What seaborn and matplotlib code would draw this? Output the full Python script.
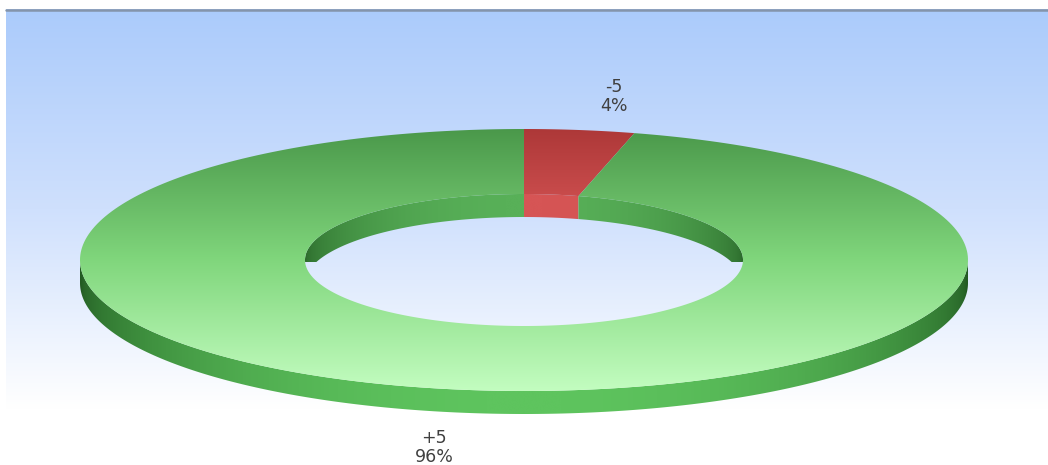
import numpy as np
import matplotlib
matplotlib.use("Agg")
import matplotlib.pyplot as plt
from matplotlib.patches import Polygon
import seaborn as sns

# ---- data ----
labels = ["-5", "+5"]
values = [4, 96]

sns.set_style("white")
plt.rcParams['font.family'] = ['DejaVu Sans']

W, H = 1048, 465
fig = plt.figure(figsize=(W / 100, H / 100), dpi=100)
ax = fig.add_axes([0, 0, 1, 1])

# ---- background ----
bg_cmap = sns.blend_palette(['#abcbfb', '#cfe0fd', '#ffffff'], as_cmap=True)
grad_v = np.linspace(0, 1, 256).reshape(-1, 1)
ax.imshow(grad_v, cmap=bg_cmap, extent=[6, W, 409, 10], aspect='auto',
          zorder=0, interpolation='bicubic')
ax.plot([6, W], [10.5, 10.5], color='#8494ab', lw=1.8, zorder=1)

# ---- geometry ----
cx, cy = 524, 260
a_o, b_o = 444, 131
a_i, b_i = 219, 66
depth = 23

styles = {
    "-5": dict(top=['#ad3838', '#e35e5e', '#ff9c9c'],
               side=['#7a2020', '#b23a3a', '#d25050'],
               wall=['#8a2a2a', '#c54848', '#d65555']),
    "+5": dict(top=['#4a984a', '#80d67c', '#c3fdc0'],
               side=['#225a22', '#3d8d3d', '#5ec45e'],
               wall=['#2a672a', '#3f8a3f', '#58b058']),
}


def ell(a, b, t0, t1, n=300, dy=0.0):
    th = np.radians(np.linspace(t0, t1, n))
    return cx + a * np.cos(th), cy - b * np.sin(th) + dy, th


def fill_grad(verts, colors, extent, horizontal=False, arr=None, z=2):
    patch = Polygon(verts, closed=True, facecolor='none', edgecolor='none', zorder=z)
    ax.add_patch(patch)
    cmap = sns.blend_palette(colors, as_cmap=True)
    if arr is None:
        arr = grad_v.T if horizontal else grad_v
    im = ax.imshow(arr, cmap=cmap, extent=extent, aspect='auto', zorder=z,
                   interpolation='bicubic', vmin=0, vmax=1)
    im.set_clip_path(patch)


def overlap(s0, s1, r0, r1):
    """intersections of slice angle range [s1,s0] (s1<s0) with [r0,r1] shifted by k*360"""
    out = []
    for k in (-720, -360, 0, 360):
        lo, hi = max(s1, r0 + k), min(s0, r1 + k)
        if hi > lo:
            out.append((lo, hi))
    return out


total = float(sum(values))
start = 90.0
slices = []
for lab, v in zip(labels, values):
    span = 360.0 * v / total
    slices.append((lab, start, start - span))
    start -= span

# horizontal shading array (light at centre, dark at edges)
xs = np.linspace(-1, 1, 400)
shade = np.sqrt(np.clip(1 - xs ** 2, 0, 1)).reshape(1, -1)

# ---- inner back wall (visible part inside the hole) ----
for lab, s0, s1 in slices:
    for lo, hi in overlap(s0, s1, 0, 180):
        x, y, th = ell(a_i, b_i, hi, lo)
        ybot = np.minimum(y + depth, cy + b_i * np.sin(th))
        verts = np.vstack([np.column_stack([x, y]),
                           np.column_stack([x[::-1], ybot[::-1]])])
        fill_grad(verts, styles[lab]['wall'],
                  [cx - a_i, cx + a_i, cy + 2, cy - b_i - 2], arr=shade, z=2)

# ---- outer front side ----
for lab, s0, s1 in slices:
    for lo, hi in overlap(s0, s1, -180, 0):
        x, y, th = ell(a_o, b_o, hi, lo)
        verts = np.vstack([np.column_stack([x, y]),
                           np.column_stack([x[::-1], y[::-1] + depth])])
        fill_grad(verts, styles[lab]['side'],
                  [cx - a_o, cx + a_o, cy + b_o + depth + 2, cy - 2], arr=shade, z=3)

# ---- top face ----
for lab, s0, s1 in slices:
    xo, yo, _ = ell(a_o, b_o, s0, s1)
    xi, yi, _ = ell(a_i, b_i, s1, s0)
    verts = np.vstack([np.column_stack([xo, yo]), np.column_stack([xi, yi])])
    fill_grad(verts, styles[lab]['top'],
              [cx - a_o, cx + a_o, cy + b_o, cy - b_o], z=4)

# ---- labels ----
for lab, s0, s1 in slices:
    mid = np.radians((s0 + s1) / 2)
    lx = cx + 1.62 * a_o * np.cos(mid)
    ly = cy - 1.26 * b_o * np.sin(mid)
    if np.sin(mid) < 0:
        ly += depth
    v = values[labels.index(lab)]
    pct = f"{100 * v / total:.0f}%"
    ax.text(lx, ly - 9, lab, ha='center', va='center', fontsize=12.5,
            color='#404040', zorder=6)
    ax.text(lx, ly + 10, pct, ha='center', va='center', fontsize=12.5,
            color='#404040', zorder=6)

ax.set_xlim(0, W)
ax.set_ylim(H, 0)
ax.axis('off')
fig.savefig("out.png", dpi=100, facecolor='white')
